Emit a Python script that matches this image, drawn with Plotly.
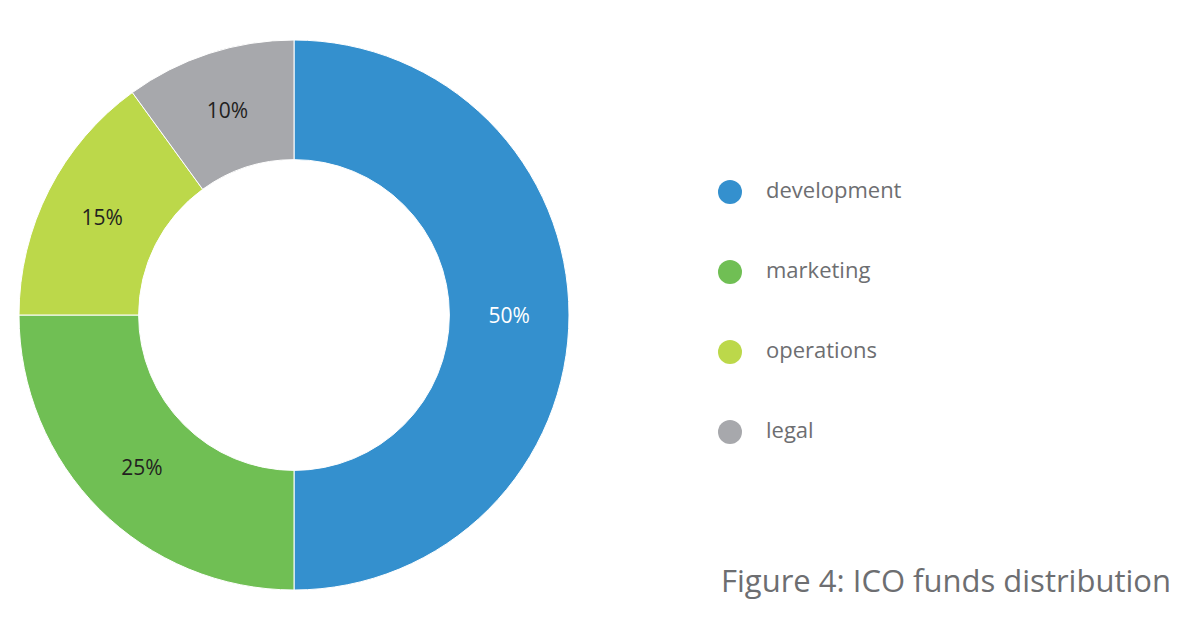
import plotly.graph_objects as go

categories = ["development", "marketing", "operations", "legal"]
values = [50, 25, 15, 10]
colors = ["#3490CE", "#70BF54", "#BCD84A", "#A7A8AC"]
pct_text_colors = ["#FFFFFF", "#231F20", "#231F20", "#231F20"]
title_text = "Figure 4: ICO funds distribution"

W, H = 1202, 636
grey = "#6D6E71"

fig = go.Figure()

fig.add_trace(go.Pie(
    labels=categories,
    values=values,
    hole=0.565,
    sort=False,
    direction="clockwise",
    rotation=0,
    marker=dict(colors=colors, line=dict(color="#FFFFFF", width=1)),
    textinfo="percent",
    texttemplate="%{percent:.0%}",
    textposition="inside",
    insidetextorientation="horizontal",
    textfont=dict(family="Open Sans", size=21, color=pct_text_colors),
    domain=dict(x=[19 / W, 569 / W], y=[1 - 590 / H, 1 - 40 / H]),
    showlegend=False,
    hoverinfo="label+percent",
))

# custom legend (circles + labels) driven by the categories list
idx = list(range(len(categories)))
spacing = 80
first_y = 192
fig.add_trace(go.Scatter(
    x=[730] * len(categories), y=idx, mode="markers",
    marker=dict(size=24, color=colors, line=dict(width=0)),
    showlegend=False, hoverinfo="skip", xaxis="x", yaxis="y",
))
fig.add_trace(go.Scatter(
    x=[766] * len(categories), y=idx, mode="text", text=categories,
    textposition="middle right",
    textfont=dict(family="Open Sans", size=22, color=grey),
    showlegend=False, hoverinfo="skip", xaxis="x", yaxis="y",
))

fig.update_layout(
    width=W, height=H,
    margin=dict(l=0, r=0, t=0, b=0),
    paper_bgcolor="white", plot_bgcolor="white",
    xaxis=dict(domain=[0, 1], range=[0, W], visible=False, fixedrange=True),
    yaxis=dict(domain=[0, 1], range=[(H - first_y) / spacing, -first_y / spacing],
               visible=False, fixedrange=True),
    annotations=[dict(
        text=title_text, x=1173 / W, y=1 - 580 / H, xref="paper", yref="paper",
        xanchor="right", yanchor="middle", showarrow=False,
        font=dict(family="Open Sans", size=31, color=grey),
    )],
)

fig.write_html("out.html")
